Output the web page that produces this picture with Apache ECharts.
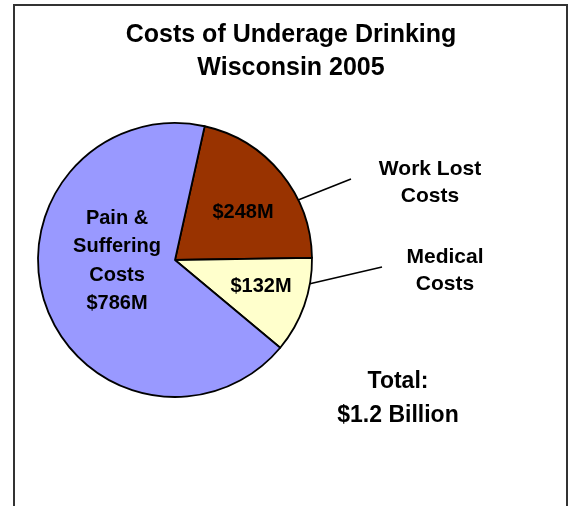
<!DOCTYPE html>
<html>
<head>
<meta charset="utf-8">
<script src="https://cdn.jsdelivr.net/npm/echarts@6/dist/echarts.min.js"></script>
<style>html,body{margin:0;padding:0;background:#fff;}#c{width:571px;height:506px;}</style>
</head>
<body>
<div id="c"></div>
<script>
var titleLines = ['Costs of Underage Drinking', 'Wisconsin 2005'];
var categories = ['Work Lost Costs', 'Medical Costs', 'Pain & Suffering Costs'];
var categoryLines = [['Work Lost', 'Costs'], ['Medical', 'Costs'], ['Pain &', 'Suffering', 'Costs']];
var values = [248, 132, 786];
var colors = ['#993300', '#FFFFCC', '#9999FF'];
var totalLabel = 'Total:';

var FONT = '"Liberation Sans", Arial, Helvetica, sans-serif';
var PIE_CX = 175, PIE_CY = 260, PIE_R = 137, START_ANGLE = 77.5;
var total = values.reduce(function (a, b) { return a + b; }, 0);
var totalText = '$' + (total / 1000).toFixed(1) + ' Billion';

function money(v) { return '$' + v + 'M'; }

var innerData = values.map(function (v, i) {
  return { name: categories[i], value: v, itemStyle: { color: colors[i] } };
});
var outerData = values.map(function (v, i) {
  return { name: categories[i], value: v, label: { show: i !== 2 } };
});

// label anchor positions (text centres) and leader-line geometry
var innerLabelPos = [[243, 212], [261, 286], [117, 261]];
var outerLabelPos = [[430, 183], [445, 271]];
var leaderAngles = [26, -10];          // degrees on the pie rim where leaders start
var leaderEnds = [[351, 179], [382, 267]];

var leaderGraphics = leaderAngles.map(function (a, i) {
  var rad = a * Math.PI / 180;
  var sx = PIE_CX + PIE_R * Math.cos(rad);
  var sy = PIE_CY - PIE_R * Math.sin(rad);
  return {
    type: 'line', silent: true, z: 10,
    shape: { x1: sx, y1: sy, x2: leaderEnds[i][0], y2: leaderEnds[i][1] },
    style: { stroke: '#000', lineWidth: 1.6 }
  };
});

var chart = echarts.init(document.getElementById('c'), null, { renderer: 'canvas' });
chart.setOption({
  animation: false,
  backgroundColor: '#ffffff',
  title: {
    text: titleLines.join('\n'),
    left: 286,
    top: 14,
    textAlign: 'center',
    textStyle: { fontFamily: FONT, fontWeight: 'bold', fontSize: 25, lineHeight: 33, color: '#000' }
  },
  graphic: [
    {
      type: 'rect', silent: true, z: -1,
      shape: { x: 14, y: 5, width: 553, height: 600 },
      style: { fill: 'none', stroke: '#333', lineWidth: 2 }
    },
    {
      type: 'text', silent: true,
      x: 398, y: 399,
      style: {
        text: totalLabel + '\n' + totalText,
        fontFamily: FONT, fontWeight: 'bold', fontSize: 23, lineHeight: 34,
        fill: '#000', align: 'center', verticalAlign: 'middle'
      }
    }
  ].concat(leaderGraphics),
  series: [
    {
      type: 'pie',
      center: [PIE_CX, PIE_CY],
      radius: PIE_R,
      startAngle: START_ANGLE,
      clockwise: true,
      avoidLabelOverlap: false,
      silent: true,
      itemStyle: { borderColor: '#000', borderWidth: 1.8 },
      label: {
        show: true, position: 'inside',
        fontFamily: FONT, fontWeight: 'bold', fontSize: 20, lineHeight: 28.3, color: '#000',
        formatter: function (p) {
          if (p.dataIndex === 2) {
            return categoryLines[2].concat([money(p.value)]).join('\n');
          }
          return money(p.value);
        }
      },
      labelLine: { show: false },
      labelLayout: function (p) {
        var pos = innerLabelPos[p.dataIndex];
        return { x: pos[0], y: pos[1], align: 'center', verticalAlign: 'middle' };
      },
      data: innerData
    },
    {
      type: 'pie',
      center: [PIE_CX, PIE_CY],
      radius: PIE_R,
      startAngle: START_ANGLE,
      clockwise: true,
      avoidLabelOverlap: false,
      silent: true,
      z: 3,
      itemStyle: { color: 'rgba(0,0,0,0)', borderWidth: 0 },
      label: {
        show: true, position: 'outside',
        fontFamily: FONT, fontWeight: 'bold', fontSize: 21, lineHeight: 27, color: '#000',
        formatter: function (p) { return categoryLines[p.dataIndex].join('\n'); }
      },
      labelLine: { show: false },
      labelLayout: function (p) {
        var pos = outerLabelPos[p.dataIndex];
        if (!pos) return {};
        return { x: pos[0], y: pos[1], align: 'center', verticalAlign: 'middle' };
      },
      data: outerData
    }
  ]
});
</script>
</body>
</html>
